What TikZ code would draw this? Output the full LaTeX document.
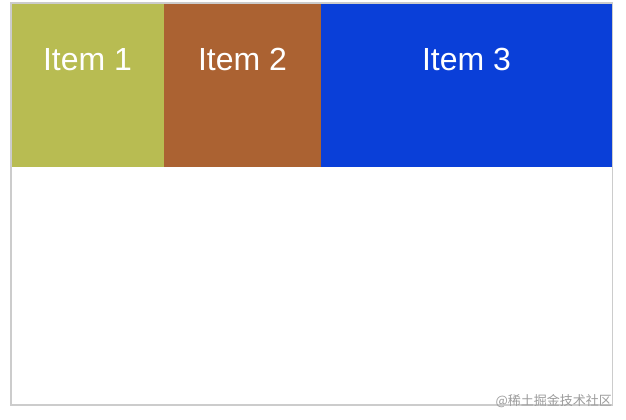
\documentclass[tikz,border=0pt]{standalone}
\usepackage{fontspec}
\setmainfont{Liberation Sans}
\newfontfamily\cjk{Noto Sans CJK SC}
\definecolor{itemA}{HTML}{B8BC52}
\definecolor{itemB}{HTML}{AB6232}
\definecolor{itemC}{HTML}{0A3FD8}
\definecolor{frame}{HTML}{CCCCCC}
\definecolor{wm}{HTML}{9C9C9C}
\begin{document}
\begin{tikzpicture}[x=1pt,y=-1pt,
  itembox/.style={draw=none,inner sep=0pt,outer sep=0pt},
  itemtext/.style={text=white,font=\fontsize{32}{32}\selectfont,anchor=base,inner sep=0pt}]
\useasboundingbox[fill=white] (0,0) rectangle (626,420);
\fill[itemA] (11,3) rectangle (164,167);
\fill[itemB] (164,3) rectangle (321,167);
\fill[itemC] (321,3) rectangle (612,167);
\node[itembox] (box1) at (87.5,85) {};
\node[itembox] (box2) at (242.5,85) {};
\node[itembox] (box3) at (466.5,85) {};
\node[itemtext] (t1) at (87.5,70.5) {Item 1};
\node[itemtext] (t2) at (242.5,70.5) {Item 2};
\node[itemtext] (t3) at (466.5,70.5) {Item 3};
\draw[frame,line width=1.5pt] (11,3) rectangle (612.5,405);
\node[text=wm,font=\cjk\fontsize{13}{13}\selectfont,anchor=base east,inner sep=0pt] (wmark) at (612,405) {@稀土掘金技术社区};
\end{tikzpicture}
\end{document}
